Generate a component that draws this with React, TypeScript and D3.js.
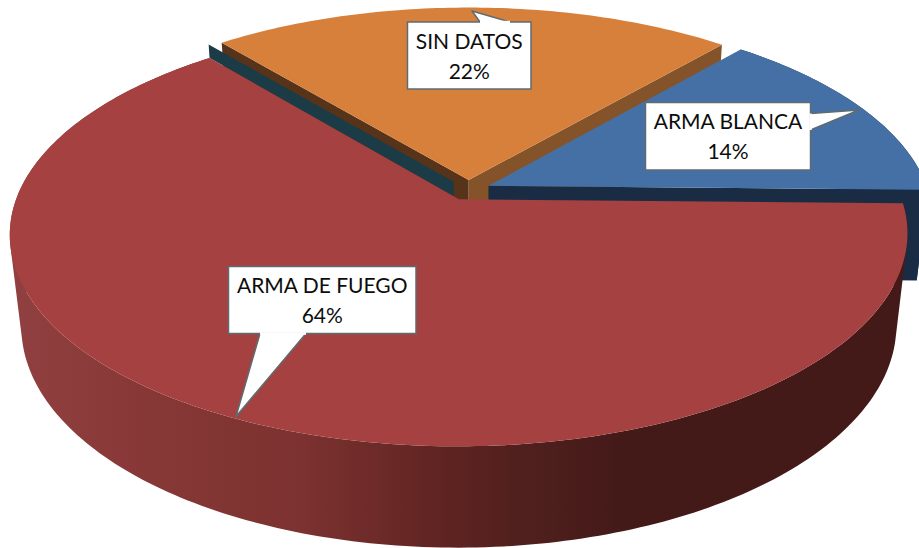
import React from "react";
import * as d3 from "d3";

// ---- data ----
const categories = ["ARMA DE FUEGO", "SIN DATOS", "ARMA BLANCA"];
const shares = [63.7, 22.3, 14.0];

// ---- styles and layout ----
const W = 919, H = 548;
const topColors = ["#A54241", "#D7803C", "#4570A6"];
const orangeWallColors = ["#57331A", "#85532A"];
const rearFaceColor = "#1B3C47";
const blueWallColor = "#192C44";
const redWallX = [10, 130, 300, 440, 520, 620, 907];
const redWallColors = ["#904040", "#883937", "#7C3230", "#602422", "#50201E", "#441A18", "#441A18"];
const calloutStroke = "#5F6B70";
const labelBoxes = [
  { x: 228.5, y: 266.5, w: 187.5, h: 67, pointer: [[260, 333.5], [236, 416.5], [306, 333.5]], base: 292.5 },
  { x: 407.5, y: 22, w: 123.5, h: 67, pointer: [[480, 22], [472, 11], [510, 22]], base: 49 },
  { x: 645.5, y: 102.5, w: 165, h: 67.5, pointer: [[810.5, 113.5], [859, 110], [810.5, 130]], base: 129 },
];

// ---- perspective model of the tilted disc ----
const cx = 468.5, cy = 190, Rx = 439.5, Ry = 203.5;
const k = 0.163, d = 0.025, depth = 93, explode = 0.05;
const rotation = (91.1 * Math.PI) / 180;

const project = (u: number, v: number, z: number): [number, number] => {
  const w = 1 - k * v + d * z;
  return [cx + (Rx * u) / w, cy + (Ry * v + depth * z) / w];
};

const pieGen = d3.pie<number>().sort(null).startAngle(rotation).endAngle(rotation + 2 * Math.PI);
const arcs = pieGen(shares);
const line = d3.line().curve(d3.curveLinearClosed);
const pct = d3.format(".0f");

const sampleAngles = (a0: number, a1: number) => {
  const n = Math.ceil(((a1 - a0) * 180) / Math.PI);
  return d3.range(n + 1).map((i) => a0 + ((a1 - a0) * i) / n);
};

// Every quad wound the same way, so one non-zero path paints their union without seams.
const unionPath = (quads: [number, number][][]) =>
  quads.map((q) => line(d3.polygonArea(q) < 0 ? q.slice().reverse() : q)).join("");

export default function App() {
  const slices = arcs.map((a) => {
    const mid = (a.startAngle + a.endAngle) / 2;
    const ox = explode * Math.sin(mid), oy = -explode * Math.cos(mid);
    const pt = (t: number, r: number, z: number) =>
      project(ox + r * Math.sin(t), oy - r * Math.cos(t), z);
    const angles = sampleAngles(a.startAngle, a.endAngle);
    const top = [pt(0, 0, 0), ...angles.map((t) => pt(t, 1, 0))];
    const bands = d3.pairs(angles).map(([t0, t1]) => [pt(t0, 1, 0), pt(t1, 1, 0), pt(t1, 1, 1), pt(t0, 1, 1)]);
    const wall = (t: number) => [pt(t, 0, 0), pt(t, 1, 0), pt(t, 1, 1), pt(t, 0, 1)];
    return { a, pt, top, bands, wall };
  });
  const [red, orange, blue] = slices;
  const span = redWallX[redWallX.length - 1] - redWallX[0];

  return (
    <svg
      width={W}
      height={H}
      viewBox={`0 0 ${W} ${H}`}
      style={{ position: "absolute", left: 0, top: 0, display: "block", background: "#fff" }}
    >
      <defs>
        <linearGradient id="redWall" gradientUnits="userSpaceOnUse" x1={redWallX[0]} x2={redWallX[redWallX.length - 1]} y1={0} y2={0}>
          {redWallX.map((x, i) => (
            <stop key={x} offset={(x - redWallX[0]) / span} stopColor={redWallColors[i]} />
          ))}
        </linearGradient>
      </defs>

      {/* orange slice */}
      <path d={line(orange.wall(orange.a.startAngle))!} fill={orangeWallColors[0]} />
      <path d={line(orange.wall(orange.a.endAngle))!} fill={orangeWallColors[1]} />
      <path d={line(orange.top)!} fill={topColors[1]} />

      {/* rear face of the large slice */}
      <path
        d={line([
          red.pt(red.a.endAngle, 1, 0),
          red.pt(red.a.endAngle, 1, -0.155),
          red.pt(red.a.endAngle, 0.018, -0.155),
          red.pt(red.a.endAngle, 0.018, 0),
        ])!}
        fill={rearFaceColor}
      />

      {/* blue slice */}
      <path d={unionPath(blue.bands)} fill={blueWallColor} />
      <path d={line(blue.wall(blue.a.endAngle))!} fill={blueWallColor} />
      <path d={line(blue.top)!} fill={topColors[2]} />

      {/* red slice */}
      <path d={unionPath(red.bands)} fill="url(#redWall)" />
      <path d={line(red.top)!} fill={topColors[0]} />

      {/* callouts */}
      {categories.map((c, i) => {
        const b = labelBoxes[i];
        const outline = `M${b.x},${b.y}H${b.x + b.w}V${b.y + b.h}H${b.x}Z`;
        const pts = b.pointer as [number, number][];
        return (
          <g key={c}>
            <path d={outline} fill="#fff" stroke={calloutStroke} strokeWidth={1.5} />
            <path d={d3.line()(pts)!} fill="#fff" stroke={calloutStroke} strokeWidth={1.5} strokeLinejoin="round" />
            <path d={d3.line()([pts[0], pts[2]])!} fill="none" stroke="#fff" strokeWidth={2.4} />
            <text textAnchor="middle" fontFamily="Lato, sans-serif" fontSize={21} fill="#0d0d0d">
              <tspan x={b.x + b.w / 2} y={b.base}>{c}</tspan>
              <tspan x={b.x + b.w / 2} y={b.base + 30}>{`${pct(shares[i])}%`}</tspan>
            </text>
          </g>
        );
      })}
    </svg>
  );
}
